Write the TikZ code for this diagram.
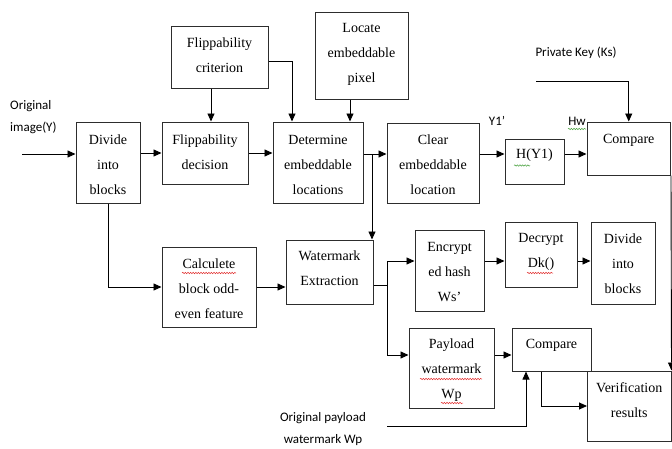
\documentclass[tikz,border=0pt]{standalone}
\usepackage{fontspec}
\setmainfont{Liberation Serif}
\newfontfamily\lblfont{Carlito}
\usetikzlibrary{arrows.meta,decorations.pathmorphing}
\definecolor{edge}{RGB}{45,45,45}
\definecolor{squigred}{RGB}{225,45,45}
\definecolor{squiggreen}{RGB}{70,160,60}

\tikzset{
  box/.style={draw=edge, line width=1pt, inner sep=0pt},
  txt/.style={align=center, inner sep=0pt, font=\fontsize{14}{25}\selectfont},
  lbl/.style={align=center, inner sep=0pt, font=\lblfont\fontsize{13}{22}\selectfont},
  flow/.style={draw=black, line width=0.9pt, -{Triangle[length=8pt,width=7pt]}},
  wire/.style={draw=black, line width=0.9pt},
  squig/.style={line width=0.5pt, decorate, decoration={snake, amplitude=0.7pt, segment length=2.6pt}},
}

\begin{document}
\begin{tikzpicture}[x=1pt,y=1pt,yscale=-1]
\useasboundingbox (0,0) rectangle (672,448);

% Boxes
\node[box, minimum width=64, minimum height=81] (divide) at (108,162.5) {};
\node[box, minimum width=86, minimum height=62] (flipdec) at (205,153) {};
\node[box, minimum width=97, minimum height=62] (flipcrit) at (219.5,57) {};
\node[box, minimum width=90, minimum height=81] (determine) at (318,162.5) {};
\node[box, minimum width=93, minimum height=87] (locate) at (361.5,55.5) {};
\node[box, minimum width=92, minimum height=80] (clear) at (433,163) {};
\node[box, minimum width=59, minimum height=45] (hash) at (534.5,161.5) {};
\node[box, minimum width=83.5, minimum height=53] (cmp1) at (628.75,148.5) {};
\node[box, minimum width=94, minimum height=80] (calc) at (209,287) {};
\node[box, minimum width=87, minimum height=64] (wmext) at (329.5,272) {};
\node[box, minimum width=69, minimum height=81] (encrypt) at (449.5,270.5) {};
\node[box, minimum width=72, minimum height=65] (decrypt) at (541,254.5) {};
\node[box, minimum width=64, minimum height=82] (divtwo) at (623,263) {};
\node[box, minimum width=85, minimum height=80] (payload) at (451.5,368) {};
\node[box, minimum width=79, minimum height=43] (cmp2) at (551.5,349.5) {};
\node[box, minimum width=83.5, minimum height=70] (verif) at (629.25,406) {};

% Box texts
\node[txt] (divide-t) at (108,165) {Divide\\into\\blocks};
\node[txt] (flipdec-t) at (205,152.5) {Flippability\\decision};
\node[txt] (flipcrit-t) at (219.5,55) {Flippability\\criterion};
\node[txt] (determine-t) at (318,165) {Determine\\embeddable\\locations};
\node[txt] (locate-t) at (361.5,54.5) {Locate\\embeddable\\pixel};
\node[txt] (clear-t) at (433,165) {Clear\\embeddable\\location};
\node[txt] (hash-t) at (534.5,155) {H(Y1)};
\node[txt] (cmp1-t) at (628.75,140) {Compare};
\node[txt] (calc-t) at (209,289) {Calculete\\block odd-\\even feature};
\node[txt] (wmext-t) at (329.5,268.5) {Watermark\\Extraction};
\node[txt] (encrypt-t) at (449.5,272) {Encrypt\\ed hash\\Ws’};
\node[txt] (decrypt-t) at (541,252) {Decrypt\\Dk()};
\node[txt] (divtwo-t) at (623,264) {Divide\\into\\blocks};
\node[txt] (payload-t) at (451.5,370) {Payload\\watermark\\Wp};
\node[txt] (cmp2-t) at (551.5,345) {Compare};
\node[txt] (verif-t) at (629.25,400) {Verification\\results};

% Free labels
\node[lbl, anchor=west, align=left] (orig) at (10,117) {Original\\image(Y)};
\node[lbl] (key) at (576,53) {Private Key (Ks)};
\node[lbl] (y1) at (497,121) {Y1’};
\node[lbl] (hw) at (577,121) {Hw};
\node[lbl] (orwp) at (323,429.5) {Original payload\\watermark Wp};

% Connectors, upper row
\coordinate (in) at (22,154);
\draw[flow] (in) -- (in -| divide.west);
\draw[flow] (divide.east |- flipdec.west) -- (flipdec.west);
\draw[flow] (flipdec.east) -- (flipdec.east -| determine.west);
\coordinate (critdown) at (211,0);
\draw[flow] (critdown |- flipcrit.south) -- (critdown |- flipdec.north);
\coordinate (critright) at (292,61);
\draw[flow] (critright -| flipcrit.east) -- (critright) -- (critright |- determine.north);
\coordinate (locdown) at (350,0);
\draw[flow] (locdown |- locate.south) -- (locdown |- determine.north);
\coordinate (j1) at (372,154);
\draw[flow] (j1 -| determine.east) -- (j1 -| clear.west);
\draw[flow] (j1) -- (j1 |- wmext.north);
\draw[flow] (j1 -| clear.east) -- (j1 -| hash.west);
\draw[flow] (j1 -| hash.east) -- (j1 -| cmp1.west);
\coordinate (ks) at (536,81.5);
\draw[flow] (ks) -| (cmp1.north);
\draw[flow] (cmp1.south east) -- (verif.north east);

% Connectors, lower rows
\draw[flow] (divide.south) |- (calc.west);
\draw[flow] (calc.east) -- (calc.east -| wmext.west);
\coordinate (j2) at (387,285);
\draw[wire] (j2 -| wmext.east) -- (j2);
\coordinate (row2) at (0,261);
\draw[flow] (j2) |- (row2 -| encrypt.west);
\draw[flow] (row2 -| encrypt.east) -- (row2 -| decrypt.west);
\draw[flow] (row2 -| decrypt.east) -- (row2 -| divtwo.west);
\coordinate (row3) at (0,355);
\draw[flow] (j2) |- (row3 -| payload.west);
\draw[flow] (row3 -| payload.east) -- (row3 -| cmp2.west);
\coordinate (wp) at (387,426);
\coordinate (wpup) at (526,0);
\draw[flow] (wp) -| (wpup |- cmp2.south);
\coordinate (cmpdown) at (541.5,0);
\draw[flow] (cmpdown |- cmp2.south) |- (verif.west);

% spell-check marks
\draw[squig, squiggreen] (568,129) -- (586,129);
\draw[squig, squiggreen] (514,165.5) -- (530,165.5);
\draw[squig, squigred] (182,273) -- (236,273);
\draw[squig, squigred] (420,379) -- (482,379);
\draw[squig, squigred] (441,403) -- (463,403);
\draw[squig, squigred] (527,273) -- (553,273);

\end{tikzpicture}
\end{document}
